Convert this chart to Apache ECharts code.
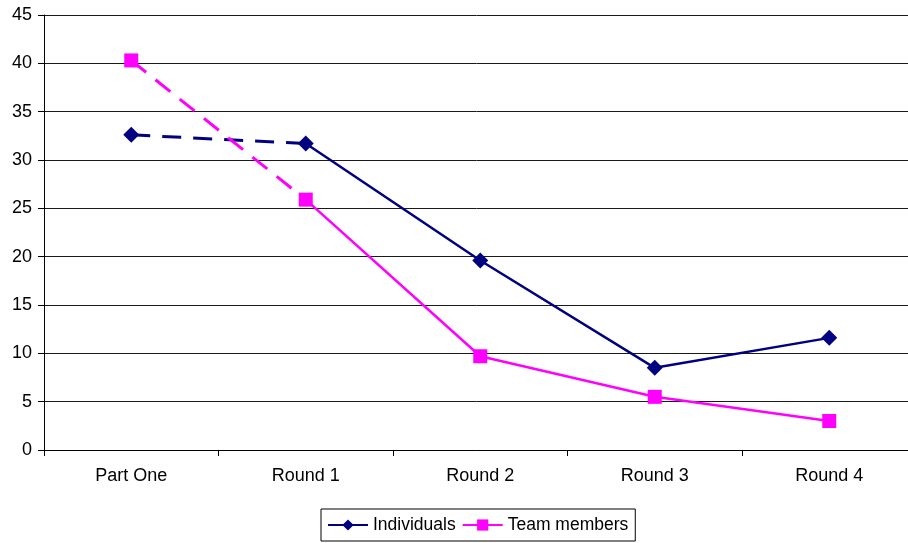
<!DOCTYPE html>
<html>
<head>
<meta charset="utf-8">
<script src="https://cdn.jsdelivr.net/npm/echarts@6/dist/echarts.min.js"></script>
<style>
  html, body { margin: 0; padding: 0; background: #fff; }
  #chart { width: 908px; height: 543px; }
</style>
</head>
<body>
<div id="chart"></div>
<script>
// Categories along the x axis
var categories = ['Part One', 'Round 1', 'Round 2', 'Round 3', 'Round 4'];
// Series values
var individuals = [32.6, 31.7, 19.6, 8.5, 11.6];
var teamMembers = [40.3, 25.9, 9.7, 5.5, 3.0];
var seriesNames = ['Individuals', 'Team members'];
// Y axis range
var yMin = 0, yMax = 45, yStep = 5;

var FONT = '"Liberation Sans", Arial, sans-serif';
var NAVY = '#000080';
var MAGENTA = '#FF00FF';

// The first segment (Part One -> Round 1) is drawn dashed; the rest solid.
function dashedPart(values) {
  return values.map(function (v, i) {
    if (i === 0) return v;
    if (i === 1) return { value: v, symbol: 'none' };
    return null;
  });
}
function solidPart(values) {
  return values.map(function (v, i) { return i === 0 ? null : v; });
}

function makeSeries(name, values, color, symbol, size) {
  return [
    {
      name: name + ' (Part One)',
      type: 'line',
      data: dashedPart(values),
      symbol: symbol,
      symbolSize: size,
      showAllSymbol: true,
      lineStyle: { color: color, width: 3, type: [19, 12] },
      itemStyle: { color: color },
      emphasis: { disabled: true },
      animation: false,
      z: 2
    },
    {
      name: name,
      type: 'line',
      data: solidPart(values),
      symbol: symbol,
      symbolSize: size,
      showAllSymbol: true,
      lineStyle: { color: color, width: 2.5 },
      itemStyle: { color: color },
      emphasis: { disabled: true },
      animation: false,
      z: 3
    }
  ];
}

var chart = echarts.init(document.getElementById('chart'), null, { renderer: 'canvas' });

chart.setOption({
  backgroundColor: '#fff',
  animation: false,
  textStyle: { fontFamily: FONT },
  // plot area runs a little past the right edge of the canvas
  grid: { left: 44, width: 872.5, top: 15, bottom: 93, containLabel: false, outerBoundsMode: 'none' },
  legend: {
    data: seriesNames,
    left: 321,
    top: 509,
    orient: 'horizontal',
    borderColor: '#000',
    borderWidth: 1,
    padding: [7, 7, 7, 6],
    itemGap: 6,
    itemWidth: 40,
    itemHeight: 14,
    lineStyle: { width: 2 },
    textStyle: { fontFamily: FONT, fontSize: 17.5, color: '#000', padding: [0, 0, 0, 0] }
  },
  xAxis: {
    type: 'category',
    data: categories,
    boundaryGap: true,
    axisLine: { lineStyle: { color: '#000', width: 1 } },
    axisTick: { show: true, length: 6, lineStyle: { color: '#000' } },
    axisLabel: { fontFamily: FONT, fontSize: 18, color: '#000', margin: 17 },
    splitLine: { show: false }
  },
  yAxis: {
    type: 'value',
    min: yMin,
    max: yMax,
    interval: yStep,
    axisLine: { show: true, lineStyle: { color: '#000', width: 1 } },
    axisTick: { show: true, length: 6, lineStyle: { color: '#000' } },
    axisLabel: { fontFamily: FONT, fontSize: 18, color: '#000', margin: 12 },
    splitLine: { show: true, lineStyle: { color: '#1a1a1a', width: 1 } }
  },
  series: [].concat(
    makeSeries(seriesNames[0], individuals, NAVY, 'diamond', 16),
    makeSeries(seriesNames[1], teamMembers, MAGENTA, 'rect', 14)
  )
});
</script>
</body>
</html>
